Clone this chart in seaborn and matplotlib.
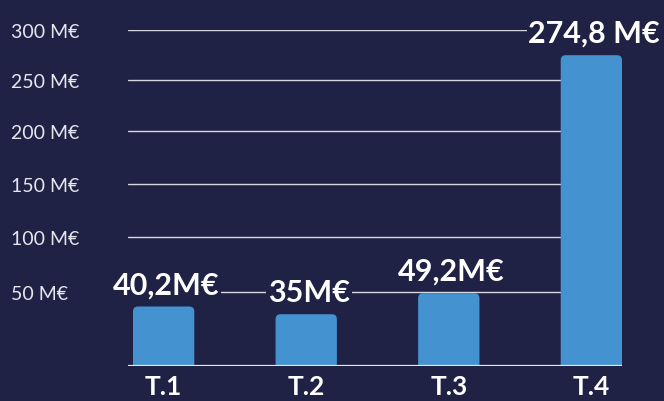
import numpy as np
import matplotlib
matplotlib.use("Agg")
import matplotlib.pyplot as plt
from matplotlib.path import Path
from matplotlib.patches import PathPatch
from matplotlib.transforms import IdentityTransform
import seaborn as sns

# Quarterly amounts (millions of euros)
quarters = ["T.1", "T.2", "T.3", "T.4"]
values = [40.2, 35.0, 49.2, 274.8]
value_labels = ["40,2M€", "35M€", "49,2M€", "274,8 M€"]

tick_values = [0, 50, 100, 150, 200, 250, 300]
tick_labels = ["", "50 M€", "100 M€", "150 M€", "200 M€", "250 M€", "300 M€"]

BG = "#1f2245"
BAR = "#4592d0"

sns.set_style("dark", {"axes.facecolor": BG, "figure.facecolor": BG})
plt.rcParams["font.family"] = ["Lato", "DejaVu Sans"]

fig = plt.figure(figsize=(6.64, 4.02), dpi=100)
W, H = 664, 402
ax = fig.add_axes([128 / W, (H - 367) / H, (622 - 128) / W, (367 - 31) / H])

# Uneven spacing of the value axis: screen height for each gridline value
grid_heights = [0, 74, 129, 182, 235, 286, 336]

def fwd(v):
    return np.interp(v, tick_values, grid_heights)

def inv(h):
    return np.interp(h, grid_heights, tick_values)

ax.set_yscale("function", functions=(fwd, inv))

sns.barplot(x=quarters, y=values, color=BAR, width=0.43, saturation=1,
            linewidth=0, edgecolor=BAR, ax=ax, zorder=3)

ax.set_xlim(-0.25, 3.215)
ax.set_ylim(0, 300)

# Gridlines and baseline
for v in tick_values[1:]:
    ax.axhline(v, color="#d8d8e0", lw=1.0, zorder=1)
ax.axhline(0, color="#e8e8ee", lw=1.6, zorder=4)

for s in ax.spines.values():
    s.set_visible(False)
ax.grid(False)

ax.set_yticks(tick_values)
ax.set_yticklabels(tick_labels)
ax.tick_params(axis="y", length=0, pad=84, labelsize=14, labelcolor="#e6e6ee")
for t in ax.get_yticklabels():
    t.set_ha("left")

ax.tick_params(axis="x", length=0, pad=6, labelsize=19, labelcolor="white")
for t in ax.get_xticklabels():
    t.set_fontweight("bold")

ax.set_xlabel("")
ax.set_ylabel("")

# Give each bar slightly rounded top corners (drawn in pixel space)
fig.canvas.draw()
r = 5.0
for bar in list(ax.patches):
    (x0, y0), (x1, y1) = ax.transData.transform(
        [(bar.get_x(), bar.get_y()), (bar.get_x() + bar.get_width(), bar.get_y() + bar.get_height())])
    verts = [(x0, y0), (x0, y1 - r), (x0, y1), (x0 + r, y1),
             (x1 - r, y1), (x1, y1), (x1, y1 - r), (x1, y0), (x0, y0)]
    codes = [Path.MOVETO, Path.LINETO, Path.CURVE3, Path.CURVE3,
             Path.LINETO, Path.CURVE3, Path.CURVE3, Path.LINETO, Path.CLOSEPOLY]
    ax.add_artist(PathPatch(Path(verts, codes), transform=IdentityTransform(),
                            facecolor=BAR, edgecolor="none", zorder=3))
    bar.set_visible(False)

# Value labels above the bars
for i, (v, lab) in enumerate(zip(values, value_labels)):
    ax.annotate(lab, (i, v), xytext=(2, 6), textcoords="offset points",
                ha="center", va="bottom", color="white", fontsize=22,
                fontweight="bold", zorder=5,
                bbox=dict(boxstyle="square,pad=0.05", fc=BG, ec="none"))

fig.savefig("out.png", dpi=100, facecolor=BG)
